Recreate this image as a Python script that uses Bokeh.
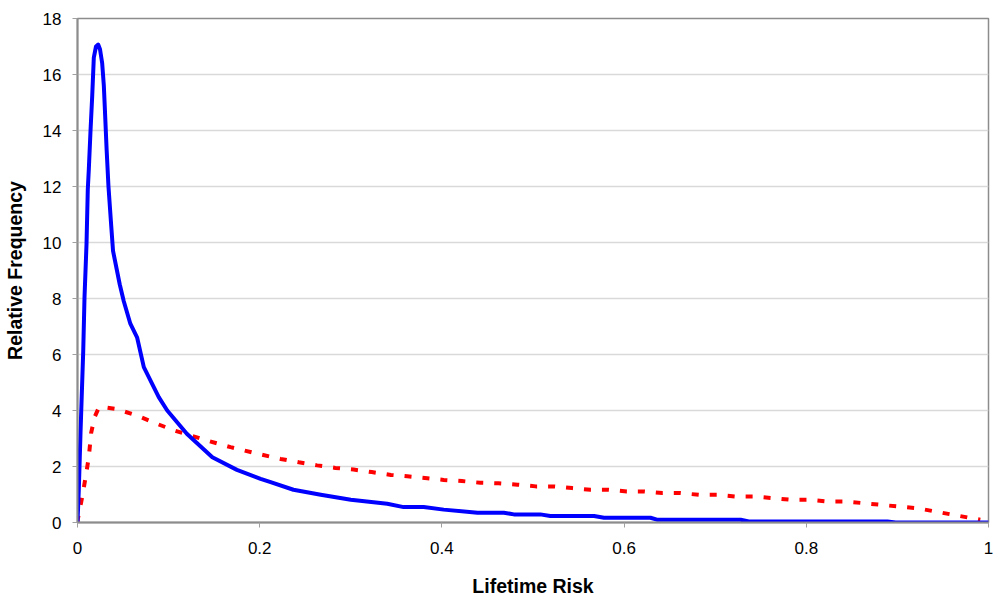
from bokeh.plotting import figure
from bokeh.models import FixedTicker, Range1d
from bokeh.embed import file_html
from bokeh.resources import INLINE

# ---- data ----
blue_x = [0.0, 0.0014, 0.0033, 0.0063, 0.0077, 0.0099, 0.0113, 0.0124, 0.0143, 0.0161,
          0.0179, 0.0203, 0.0227, 0.0247, 0.0271, 0.0289, 0.030, 0.032, 0.034, 0.037,
          0.039, 0.0464, 0.0508, 0.058, 0.0655, 0.0728, 0.0892, 0.0985, 0.120, 0.148,
          0.175, 0.201, 0.212, 0.237, 0.267, 0.300, 0.340, 0.358, 0.380, 0.402, 0.439,
          0.468, 0.479, 0.508, 0.519, 0.567, 0.578, 0.629, 0.636, 0.728, 0.737, 0.889,
          0.898, 1.0]
blue_y = [0.0, 1.14, 3.2, 6.14, 8.05, 9.95, 11.9, 12.6, 14.0, 15.2,
          16.6, 17.0, 17.07, 16.9, 16.4, 15.6, 14.8, 13.3, 12.0, 10.6,
          9.7, 8.5, 7.9, 7.1, 6.6, 5.55, 4.48, 4.0, 3.17, 2.33,
          1.88, 1.56, 1.44, 1.17, 0.99, 0.81, 0.67, 0.55, 0.55, 0.46, 0.35,
          0.35, 0.29, 0.29, 0.23, 0.23, 0.17, 0.17, 0.10, 0.10, 0.04, 0.04,
          0.0, 0.0]

red_x = [0.0, 0.0004, 0.0051, 0.0088, 0.0124, 0.015, 0.0187, 0.0234, 0.029, 0.0417,
         0.0655, 0.0875, 0.106, 0.124, 0.142, 0.168, 0.201, 0.223, 0.243, 0.263,
         0.283, 0.303, 0.323, 0.344, 0.362, 0.384, 0.402, 0.422, 0.442, 0.462,
         0.483, 0.503, 0.523, 0.543, 0.563, 0.583, 0.603, 0.622, 0.642, 0.662,
         0.682, 0.702, 0.722, 0.742, 0.763, 0.783, 0.803, 0.823, 0.843, 0.863,
         0.882, 0.902, 0.922, 0.942, 0.962, 0.982, 0.991]
red_y = [0.0, 0.13, 0.9, 1.6, 2.33, 3.2, 3.76, 4.1, 4.12, 4.06,
         3.82, 3.52, 3.29, 3.11, 2.93, 2.69, 2.43, 2.27, 2.15, 2.04,
         1.95, 1.89, 1.80, 1.70, 1.65, 1.58, 1.52, 1.48, 1.42, 1.40,
         1.35, 1.29, 1.29, 1.23, 1.17, 1.17, 1.11, 1.11, 1.05, 1.05,
         0.99, 0.99, 0.93, 0.93, 0.87, 0.81, 0.81, 0.75, 0.75, 0.69,
         0.63, 0.57, 0.51, 0.39, 0.27, 0.15, 0.10]

x_ticks = [0, 0.2, 0.4, 0.6, 0.8, 1.0]
x_tick_labels = ["0", "0.2", "0.4", "0.6", "0.8", "1"]
y_ticks = [0, 2, 4, 6, 8, 10, 12, 14, 16, 18]

x_title = "Lifetime Risk"
y_title = "Relative Frequency"

# ---- figure ----
p = figure(width=998, height=604, output_backend="svg", toolbar_location=None,
           x_range=Range1d(0, 1), y_range=Range1d(0, 18),
           min_border_left=77, min_border_right=10, min_border_top=18, min_border_bottom=82)
p.background_fill_color = "white"
p.border_fill_color = "white"
p.outline_line_color = "#8c8c8c"
p.outline_line_width = 1.5

p.xgrid.grid_line_color = None
p.ygrid.grid_line_color = "#d9d9d9"
p.ygrid.grid_line_width = 1.5

p.xaxis.ticker = FixedTicker(ticks=x_ticks)
p.xaxis.major_label_overrides = {t: l for t, l in zip(x_ticks, x_tick_labels)}
p.yaxis.ticker = FixedTicker(ticks=y_ticks)

for ax in (p.xaxis, p.yaxis):
    ax.axis_line_color = "#8c8c8c"
    ax.axis_line_width = 2
    ax.major_tick_line_color = "#a0a0a0"
    ax.major_tick_in = 0
    ax.major_tick_out = 5
    ax.minor_tick_line_color = None
    ax.major_label_text_font = "Liberation Sans"
    ax.major_label_text_font_size = "17px"
    ax.major_label_text_color = "black"
    ax.axis_label_text_font = "Liberation Sans"
    ax.axis_label_text_font_style = "bold"
    ax.axis_label_text_font_size = "19.5px"
    ax.axis_label_text_color = "black"

p.xaxis.major_label_standoff = 14
p.yaxis.major_label_standoff = 11
p.xaxis.axis_label = x_title
p.yaxis.axis_label = y_title
p.xaxis.axis_label_standoff = 18
p.yaxis.axis_label_standoff = 14

p.line(red_x, red_y, line_color="#ff0000", line_width=4, line_dash="7 11")
p.line(blue_x, blue_y, line_color="#0000ff", line_width=4, line_join="round")

open("out.html", "w").write(file_html(p, INLINE))
